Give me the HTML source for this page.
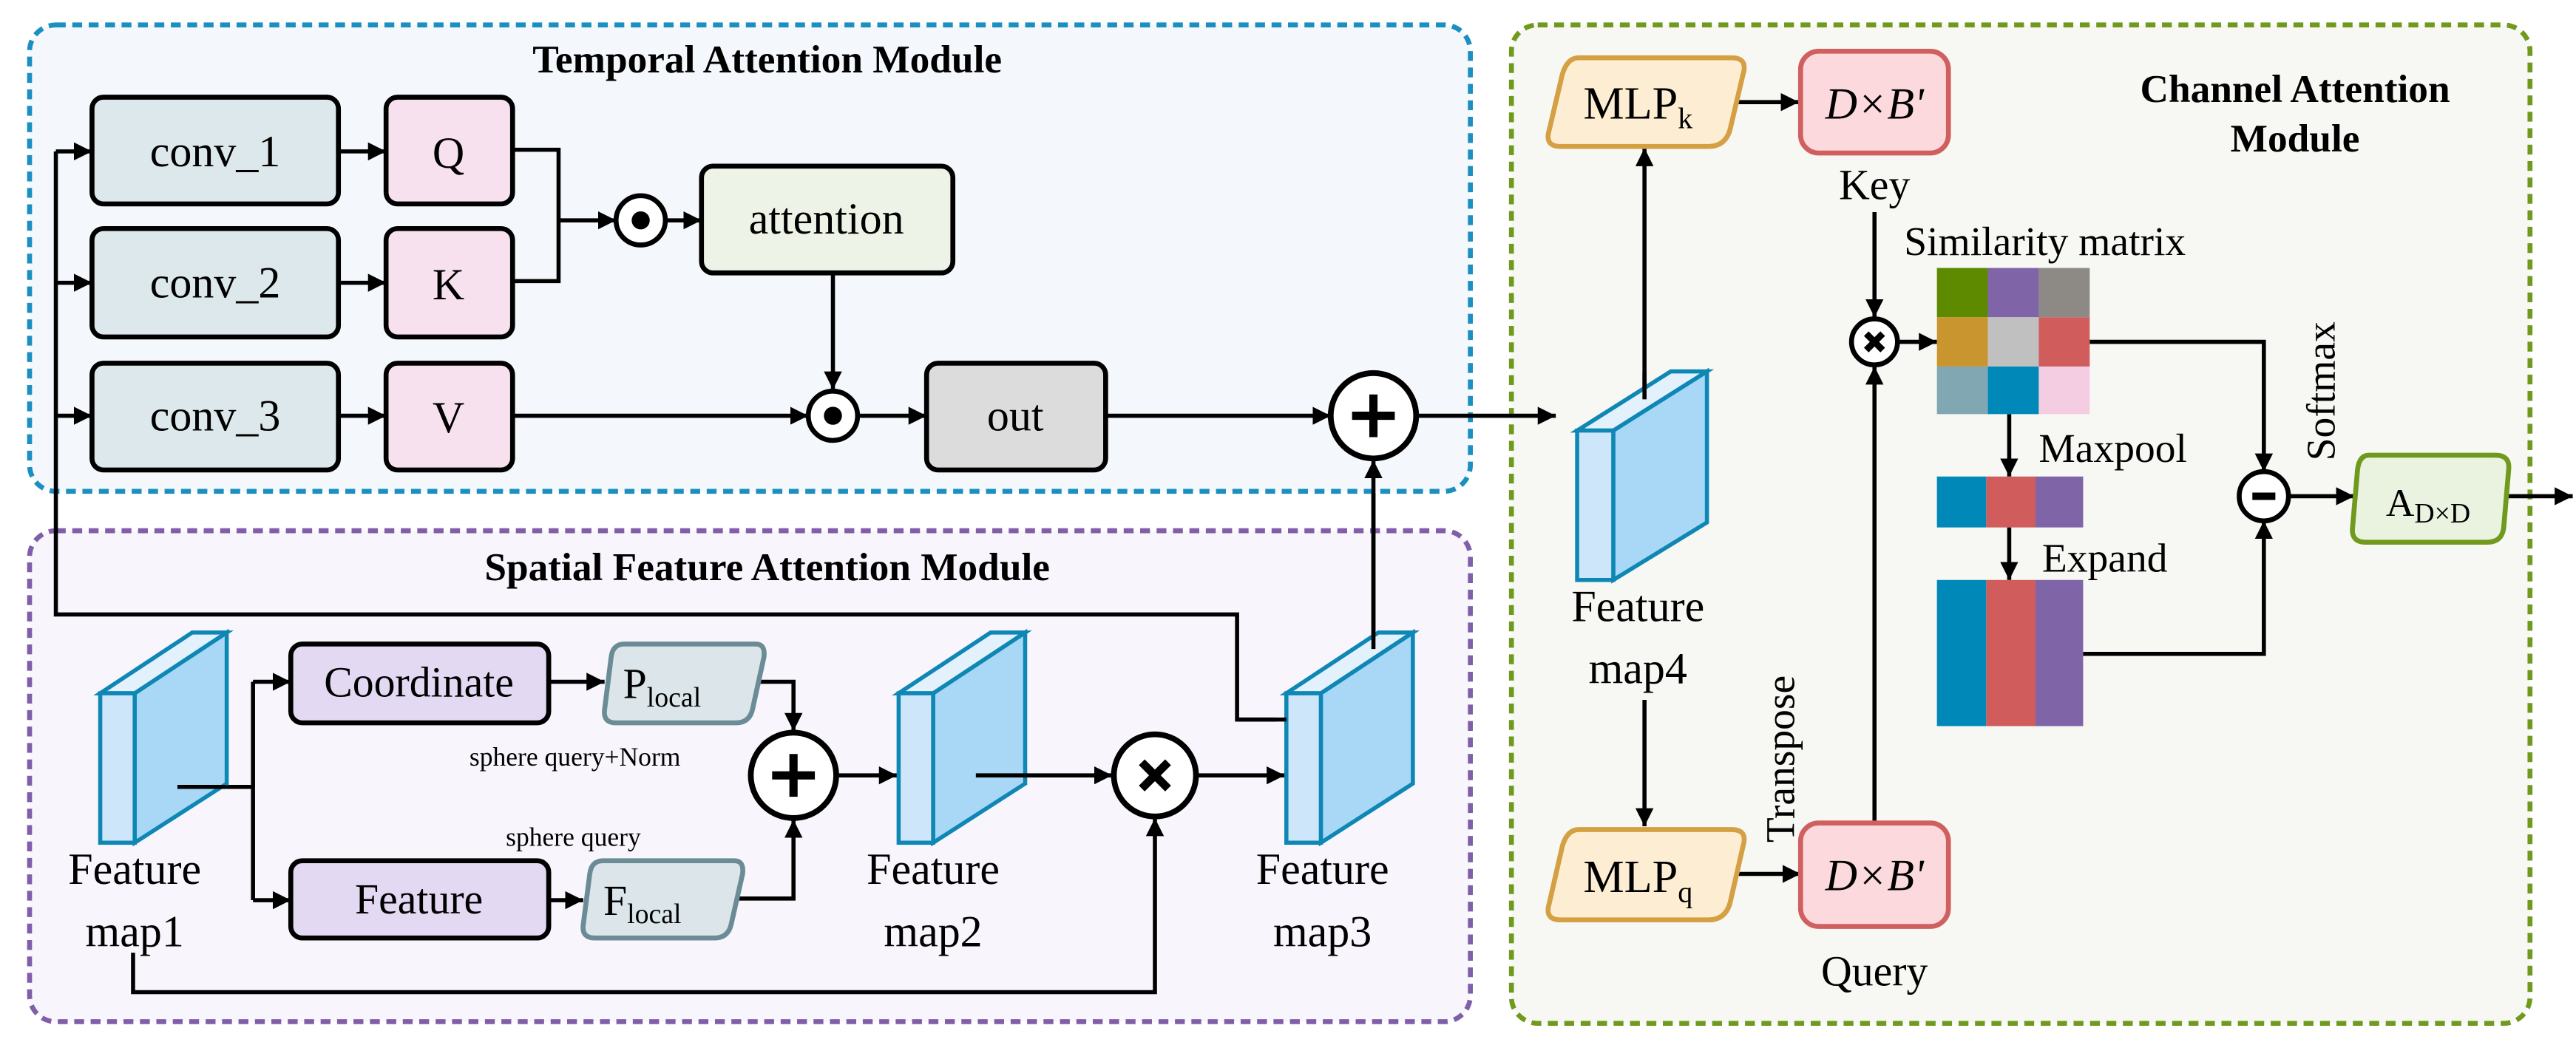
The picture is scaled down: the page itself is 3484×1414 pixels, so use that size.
<!DOCTYPE html>
<html><head><meta charset="utf-8"><style>
html,body{margin:0;padding:0;background:#fff;}
svg{display:block;font-family:"Liberation Serif","Times New Roman","DejaVu Serif",serif;}
text{font-family:"Liberation Serif","Times New Roman","DejaVu Serif",serif;fill:#000;}
</style></head><body>
<svg width="3484" height="1414" viewBox="0 0 1568 636" xmlns="http://www.w3.org/2000/svg" font-family="Liberation Serif, Times New Roman, serif">
<defs>
<marker id="a" markerUnits="userSpaceOnUse" markerWidth="12" markerHeight="12" refX="11" refY="6" orient="auto">
<path d="M0,0.5 L11,6 L0,11.5 Z" fill="#000"/></marker>
</defs>
<rect width="1568" height="636" fill="#fff"/>
<rect x="18" y="15" width="877" height="284" rx="16" fill="#f4f7fc" stroke="#1a8fc0" stroke-width="3" stroke-dasharray="6,4"/>
<rect x="18" y="323" width="877" height="299" rx="16" fill="#f8f6fc" stroke="#7e5fa8" stroke-width="3" stroke-dasharray="6,4"/>
<rect x="920" y="15" width="620" height="608" rx="16" fill="#f7f8f3" stroke="#6f9a1d" stroke-width="3" stroke-dasharray="6,4"/>
<text x="467" y="44" font-size="24" font-weight="bold" text-anchor="middle">Temporal Attention Module</text>
<text x="467" y="353" font-size="24" font-weight="bold" text-anchor="middle">Spatial Feature Attention Module</text>
<text x="1397" y="62" font-size="24" font-weight="bold" text-anchor="middle">Channel Attention</text>
<text x="1397" y="92" font-size="24" font-weight="bold" text-anchor="middle">Module</text>

<g stroke="#000" stroke-width="2.5" fill="none">
<path d="M34,92 V374 H753 V438 H777"/>
<path d="M34,92 H56" marker-end="url(#a)"/>
<path d="M34,172 H56" marker-end="url(#a)"/>
<path d="M34,253 H56" marker-end="url(#a)"/>
<path d="M206,92 H235" marker-end="url(#a)"/>
<path d="M206,172 H235" marker-end="url(#a)"/>
<path d="M206,253 H235" marker-end="url(#a)"/>
<path d="M312,91 H340 V171 H312"/>
<path d="M340,134 H375" marker-end="url(#a)"/>
<path d="M405,134 H427" marker-end="url(#a)"/>
<path d="M507,166 V237" marker-end="url(#a)"/>
<path d="M312,253 H492" marker-end="url(#a)"/>
<path d="M522,253 H564" marker-end="url(#a)"/>
<path d="M673,253 H810" marker-end="url(#a)"/>
<path d="M862,253 H947" marker-end="url(#a)"/>
<path d="M836,395 V280" marker-end="url(#a)"/>
</g>
<g stroke="#000" stroke-width="3">
<rect x="56" y="59" width="150" height="65" rx="7" fill="#dde8ec"/>
<rect x="56" y="139" width="150" height="66" rx="7" fill="#dde8ec"/>
<rect x="56" y="221" width="150" height="65" rx="7" fill="#dde8ec"/>
<rect x="235" y="59" width="77" height="65" rx="7" fill="#f8e1ee"/>
<rect x="235" y="139" width="77" height="66" rx="7" fill="#f8e1ee"/>
<rect x="235" y="221" width="77" height="65" rx="7" fill="#f8e1ee"/>
<rect x="427" y="101" width="153" height="65" rx="7" fill="#eef3e8"/>
<rect x="564" y="221" width="109" height="65" rx="7" fill="#dcdcdc"/>
<circle cx="390" cy="134" r="15" fill="#fff"/>
<circle cx="507" cy="253" r="15" fill="#fff"/>
<circle cx="836" cy="253" r="26" fill="#fff" stroke-width="3.5"/>
</g>
<circle cx="390" cy="134" r="5.5" fill="#000"/>
<circle cx="507" cy="253" r="5.5" fill="#000"/>
<path d="M836,240 V266 M823,253 H849" stroke="#000" stroke-width="5"/>
<g font-size="27" text-anchor="middle">
<text x="131" y="101">conv_1</text>
<text x="131" y="181">conv_2</text>
<text x="131" y="262">conv_3</text>
<text x="273" y="102">Q</text>
<text x="273" y="182">K</text>
<text x="273" y="263">V</text>
<text x="503" y="142">attention</text>
<text x="618" y="262">out</text>
</g>

<g stroke="#000" stroke-width="2.5" fill="none">
<path d="M108,479 H154 M154,415 V548"/>
<path d="M154,415 H177" marker-end="url(#a)"/>
<path d="M154,548 H177" marker-end="url(#a)"/>
<path d="M334,415 H368" marker-end="url(#a)"/>
<path d="M334,548 H355" marker-end="url(#a)"/>
<path d="M460,415 H483 V445" marker-end="url(#a)"/>
<path d="M447,547 H483 V499" marker-end="url(#a)"/>
<path d="M509,472 H546" marker-end="url(#a)"/>
<path d="M729,472 H782" marker-end="url(#a)"/>
<path d="M81,580 V604 H703 V498" marker-end="url(#a)"/>
</g>
<g stroke="#0f87b5" stroke-width="2.5" stroke-linejoin="miter">
<g id="s1">
<path d="M82,422 L138,385 L138,477 L82,513 Z" fill="#a8d8f6"/>
<path d="M61,422 L117,385 L138,385 L82,422 Z" fill="#e3f1fc"/>
<rect x="61" y="422" width="21" height="91" fill="#cde6fa"/>
</g>
<use href="#s1" x="486"/>
<use href="#s1" x="722"/>
</g>
<g stroke="#000" stroke-width="2.5" fill="none"><path d="M594,472 H677" marker-end="url(#a)"/><path d="M836,395 V300"/><path d="M108,479 H138"/><path d="M753,438 H783"/></g>
<g stroke="#000" stroke-width="3">
<rect x="177" y="392" width="157" height="48" rx="7" fill="#e3d9f2"/>
<rect x="177" y="524" width="157" height="47" rx="7" fill="#e3d9f2"/>
</g>
<g stroke="#6b8c96" stroke-width="3" fill="#dce6ea" stroke-linejoin="round">
<path d="M380,392 H460 Q466,392 465,400 L458,432 Q456,440 448,440 H375 Q367,440 368,432 L372,400 Q373,392 380,392 Z"/>
<path d="M367,524 H447 Q453,524 452,532 L445,563 Q443,571 435,571 H362 Q354,571 355,563 L359,532 Q360,524 367,524 Z"/>
</g>
<g stroke="#000" stroke-width="3.5" fill="#fff">
<circle cx="483" cy="472" r="26"/>
<circle cx="703" cy="472" r="25"/>
</g>
<path d="M483,459 V485 M470,472 H496" stroke="#000" stroke-width="5"/>
<path d="M695,464 L711,480 M711,464 L695,480" stroke="#000" stroke-width="5"/>
<g text-anchor="middle">
<text x="255" y="424" font-size="26">Coordinate</text>
<text x="255" y="556" font-size="26">Feature</text>
<text x="403" y="425" font-size="26">P<tspan font-size="17" dy="5">local</tspan></text>
<text x="391" y="557" font-size="26">F<tspan font-size="17" dy="5">local</tspan></text>
<text x="350" y="466" font-size="16">sphere query+Norm</text>
<text x="349" y="515" font-size="16">sphere query</text>
<g font-size="27">
<text x="82" y="538">Feature</text><text x="82" y="576">map1</text>
<text x="568" y="538">Feature</text><text x="568" y="576">map2</text>
<text x="805" y="538">Feature</text><text x="805" y="576">map3</text>
</g>
</g>

<g stroke="#000" stroke-width="2.5" fill="none">
<path d="M1001,243 V90" marker-end="url(#a)"/>
<path d="M1055,62 H1095" marker-end="url(#a)"/>
<path d="M1141,129 V193" marker-end="url(#a)"/>
<path d="M1141,500 V223" marker-end="url(#a)"/>
<path d="M1156,208 H1179" marker-end="url(#a)"/>
<path d="M1001,426 V503" marker-end="url(#a)"/>
<path d="M1055,532 H1096" marker-end="url(#a)"/>
<path d="M1272,208 H1378 V287" marker-end="url(#a)"/>
<path d="M1268,398 H1378 V317" marker-end="url(#a)"/>
<path d="M1223,252 V290" marker-end="url(#a)"/>
<path d="M1223,321 V353" marker-end="url(#a)"/>
<path d="M1393,302 H1433" marker-end="url(#a)"/>
<path d="M1526,302 H1566" marker-end="url(#a)"/>
</g>
<g stroke="#0f87b5" stroke-width="2.5">
<path d="M982,262 L1039,226 L1039,318 L982,353 Z" fill="#a8d8f6"/>
<path d="M960,262 L1017,226 L1039,226 L982,262 Z" fill="#e3f1fc"/>
<rect x="960" y="262" width="22" height="91" fill="#cde6fa"/>
</g>
<path d="M1001,243 V226" stroke="#000" stroke-width="2.5"/>
<g stroke="#d4a043" stroke-width="3" fill="#fdeed3" stroke-linejoin="round">
<path d="M961,35 H1054 Q1064,35 1061,45 L1053,79 Q1050,89 1040,89 H950 Q940,89 943,79 L951,45 Q954,35 961,35 Z"/>
<path d="M961,505 H1054 Q1064,505 1061,515 L1053,550 Q1050,560 1040,560 H950 Q940,560 943,550 L951,515 Q954,505 961,505 Z"/>
</g>
<g stroke="#d0605f" stroke-width="3" fill="#fcd9dc">
<rect x="1096" y="31" width="90" height="62" rx="11"/>
<rect x="1096" y="501" width="90" height="63" rx="11"/>
</g>
<g>
<rect x="1179" y="163" width="31" height="30" fill="#5e8a00"/>
<rect x="1210" y="163" width="31" height="30" fill="#7f65a8"/>
<rect x="1241" y="163" width="31" height="30" fill="#8d8a86"/>
<rect x="1179" y="193" width="31" height="30" fill="#c9952f"/>
<rect x="1210" y="193" width="31" height="30" fill="#c0c0c0"/>
<rect x="1241" y="193" width="31" height="30" fill="#d05c5c"/>
<rect x="1179" y="223" width="31" height="29" fill="#81a7b3"/>
<rect x="1210" y="223" width="31" height="29" fill="#0088b8"/>
<rect x="1241" y="223" width="31" height="29" fill="#f4cde2"/>
<rect x="1179" y="290" width="30" height="31" fill="#0088b8"/>
<rect x="1209" y="290" width="30" height="31" fill="#d05c5c"/>
<rect x="1239" y="290" width="29" height="31" fill="#7f65a8"/>
<rect x="1179" y="353" width="30" height="89" fill="#0088b8"/>
<rect x="1209" y="353" width="30" height="89" fill="#d05c5c"/>
<rect x="1239" y="353" width="29" height="89" fill="#7f65a8"/>
</g>
<g stroke="#000" stroke-width="3" fill="#fff">
<circle cx="1141" cy="208" r="14"/>
<circle cx="1378" cy="302" r="15"/>
</g>
<path d="M1136,203 L1146,213 M1146,203 L1136,213" stroke="#000" stroke-width="4"/>
<path d="M1371,302 H1385" stroke="#000" stroke-width="4.5"/>
<path d="M1442,277 H1519 Q1528,277 1527,286 L1524,321 Q1523,330 1514,330 H1440 Q1431,330 1432,321 L1435,286 Q1436,277 1442,277 Z" fill="#eaf2e0" stroke="#6f9a1d" stroke-width="3"/>
<g text-anchor="middle">
<text x="997" y="72" font-size="28">MLP<tspan font-size="18" dy="6">k</tspan></text>
<text x="997" y="543" font-size="28">MLP<tspan font-size="18" dy="6">q</tspan></text>
<text x="1141" y="72" font-size="27" font-style="italic">D×B'</text>
<text x="1141" y="542" font-size="27" font-style="italic">D×B'</text>
<text x="1141" y="121" font-size="26">Key</text>
<text x="1141" y="600" font-size="26">Query</text>
<text x="997" y="378" font-size="27">Feature</text>
<text x="997" y="416" font-size="27">map4</text>
<text x="1478" y="314" font-size="24">A<tspan font-size="17" dy="4">D×D</tspan></text>
</g>
<text x="1159" y="155" font-size="25">Similarity matrix</text>
<text x="1241" y="281" font-size="25">Maxpool</text>
<text x="1243" y="348" font-size="25">Expand</text>
<text transform="translate(1092,462) rotate(-90)" font-size="25" text-anchor="middle">Transpose</text>
<text transform="translate(1421,238) rotate(-90)" font-size="25" text-anchor="middle">Softmax</text>
</svg>
</body></html>
